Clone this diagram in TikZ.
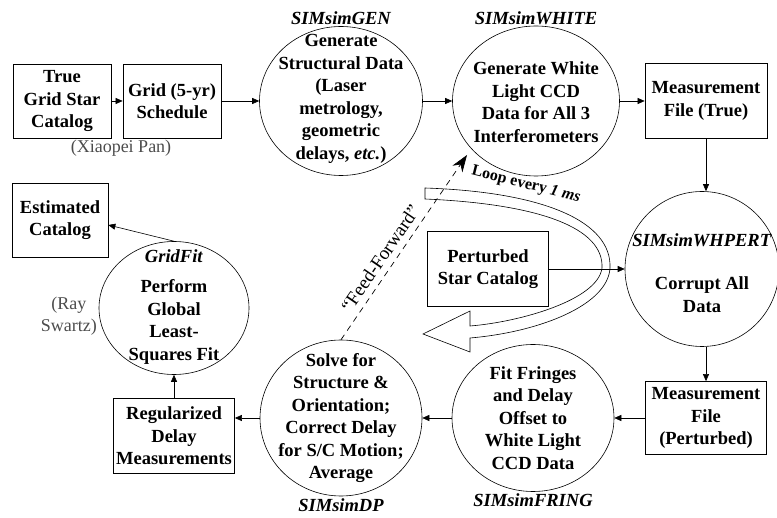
\documentclass[tikz,border=0pt]{standalone}
\usepackage{fontspec}
\setmainfont{Liberation Serif}
\usetikzlibrary{positioning,shapes.geometric,arrows.meta}

\begin{document}
\begin{tikzpicture}[x=1pt,y=-1pt,
    font=\fontsize{18.5}{22.5}\selectfont\bfseries,
    box/.style={draw,line width=0.7pt,align=center,inner sep=1pt},
    proc/.style={draw,ellipse,line width=0.6pt,inner sep=0pt},
    txt/.style={align=center,inner sep=0pt},
    tag/.style={font=\fontsize{18.5}{22.5}\selectfont\bfseries\itshape,inner sep=1pt},
    note/.style={font=\fontsize{18}{22}\selectfont\mdseries,text=black!70,inner sep=1pt},
    arr/.style={-{Triangle[length=7pt,width=6pt]},line width=0.6pt}]
    \useasboundingbox (0,0) rectangle (777,518);

    % Boxes
    \node (truecat) [box,minimum width=98pt,minimum height=74pt] at (62,101) {True\\Grid Star\\Catalog};
    \node (sched) [box,minimum width=98pt,minimum height=74pt] at (172,101) {Grid (5-yr)\\Schedule};
    \node (meastrue) [box,minimum width=122pt,minimum height=75pt] at (706,101) {Measurement\\File (True)};
    \node (pertcat) [box,minimum width=121pt,minimum height=75pt] at (488,269) {Perturbed\\Star Catalog};
    \node (measpert) [box,minimum width=121pt,minimum height=73pt] at (706,418) {Measurement\\File\\(Perturbed)};
    \node (reg) [box,minimum width=121pt,minimum height=75pt] at (174,436) {Regularized\\Delay\\Measurements};
    \node (est) [box,minimum width=96pt,minimum height=74pt] at (60,220) {Estimated\\Catalog};

    % Processes
    \node (gen) [proc,minimum width=163pt,minimum height=149pt] at (341,101) {};
    \node (gentxt) [txt] at (341,99) {Generate\\Structural Data\\(Laser\\metrology,\\geometric\\delays, \textit{etc.})};
    \node (white) [proc,minimum width=167pt,minimum height=150pt] at (536,101) {};
    \node (whitetxt) [txt] at (536,102) {Generate White\\Light CCD\\Data for All 3\\Interferometers};
    \node (whpert) [proc,minimum width=154pt,minimum height=155pt] at (702,269) {};
    \node (whperttxt) [txt] at (702,273) {\textit{SIMsimWHPERT}\\[21pt]Corrupt All\\Data};
    \node (fring) [proc,minimum width=162pt,minimum height=147pt] at (533,418) {};
    \node (fringtxt) [txt] at (533,418) {Fit Fringes\\and Delay\\Offset to\\White Light\\CCD Data};
    \node (dp) [proc,minimum width=162pt,minimum height=156pt] at (341,418) {};
    \node (dptxt) [txt] at (341,418) {Solve for\\Structure \&\\Orientation;\\Correct Delay\\for S/C Motion;\\Average};
    \node (gf) [proc,minimum width=150pt,minimum height=133pt] at (174,308) {};
    \node (gftxt) [txt] at (174,307) {\textit{GridFit}\\[8pt]Perform\\Global\\Least-\\Squares Fit};

    % Program names and people
    \node (genlab) [tag,above=0pt of gen] {SIMsimGEN};
    \node (whitelab) [tag,above=0pt of white] {SIMsimWHITE};
    \node (dplab) [tag,below=1pt of dp] {SIMsimDP};
    \node (fringlab) [tag,below=1pt of fring] {SIMsimFRING};
    \node (xiaopei) [note] at (121,148) {(Xiaopei Pan)};
    \node (ray) [note,align=center,anchor=east] at (98,316) {(Ray\\Swartz)};

    % Loop arrow
    \draw[fill=white,line width=0.6pt] (425,188) .. controls (545,192) and (612,222) .. (610,268)
        .. controls (608,305) and (540,332) .. (470,338) -- (470,352) -- (423,334) -- (470,311) -- (470,326)
        .. controls (520,322) and (598,300) .. (602,268) .. controls (604,228) and (540,204) .. (425,199) -- cycle;
    \node (looplab) [font=\fontsize{16}{18}\selectfont\bfseries,rotate=-14] at (526,185) {Loop every \textit{1 ms}};

    % Flow
    \draw[arr] (truecat) -- (sched);
    \draw[arr] (sched) -- (gen);
    \draw[arr] (gen) -- (white);
    \draw[arr] (white) -- (meastrue);
    \draw[arr] (meastrue.south) -- (meastrue.south |- whpert.north);
    \draw[arr] (pertcat) -- (whpert);
    \draw[arr] (measpert.north |- whpert.south) -- (measpert.north);
    \draw[arr] (measpert) -- (fring);
    \draw[arr] (fring) -- (dp);
    \draw[arr] (dp) -- (dp -| reg.east);
    \draw[arr] (reg) -- (gf);
    \draw[arr] (gf.north) -- ([yshift=-5pt]est.east);

    % Feed-forward
    \coordinate (fftip) at (467,155);
    \draw[dash pattern=on 6pt off 5pt,line width=0.7pt,-{Stealth[length=17pt,width=12pt]}] (dp.north) --
        node (fflab) [sloped,above=3pt,pos=0.4,font=\fontsize{19}{22}\selectfont\mdseries] {“Feed-Forward”} (fftip);

\end{tikzpicture}
\end{document}
